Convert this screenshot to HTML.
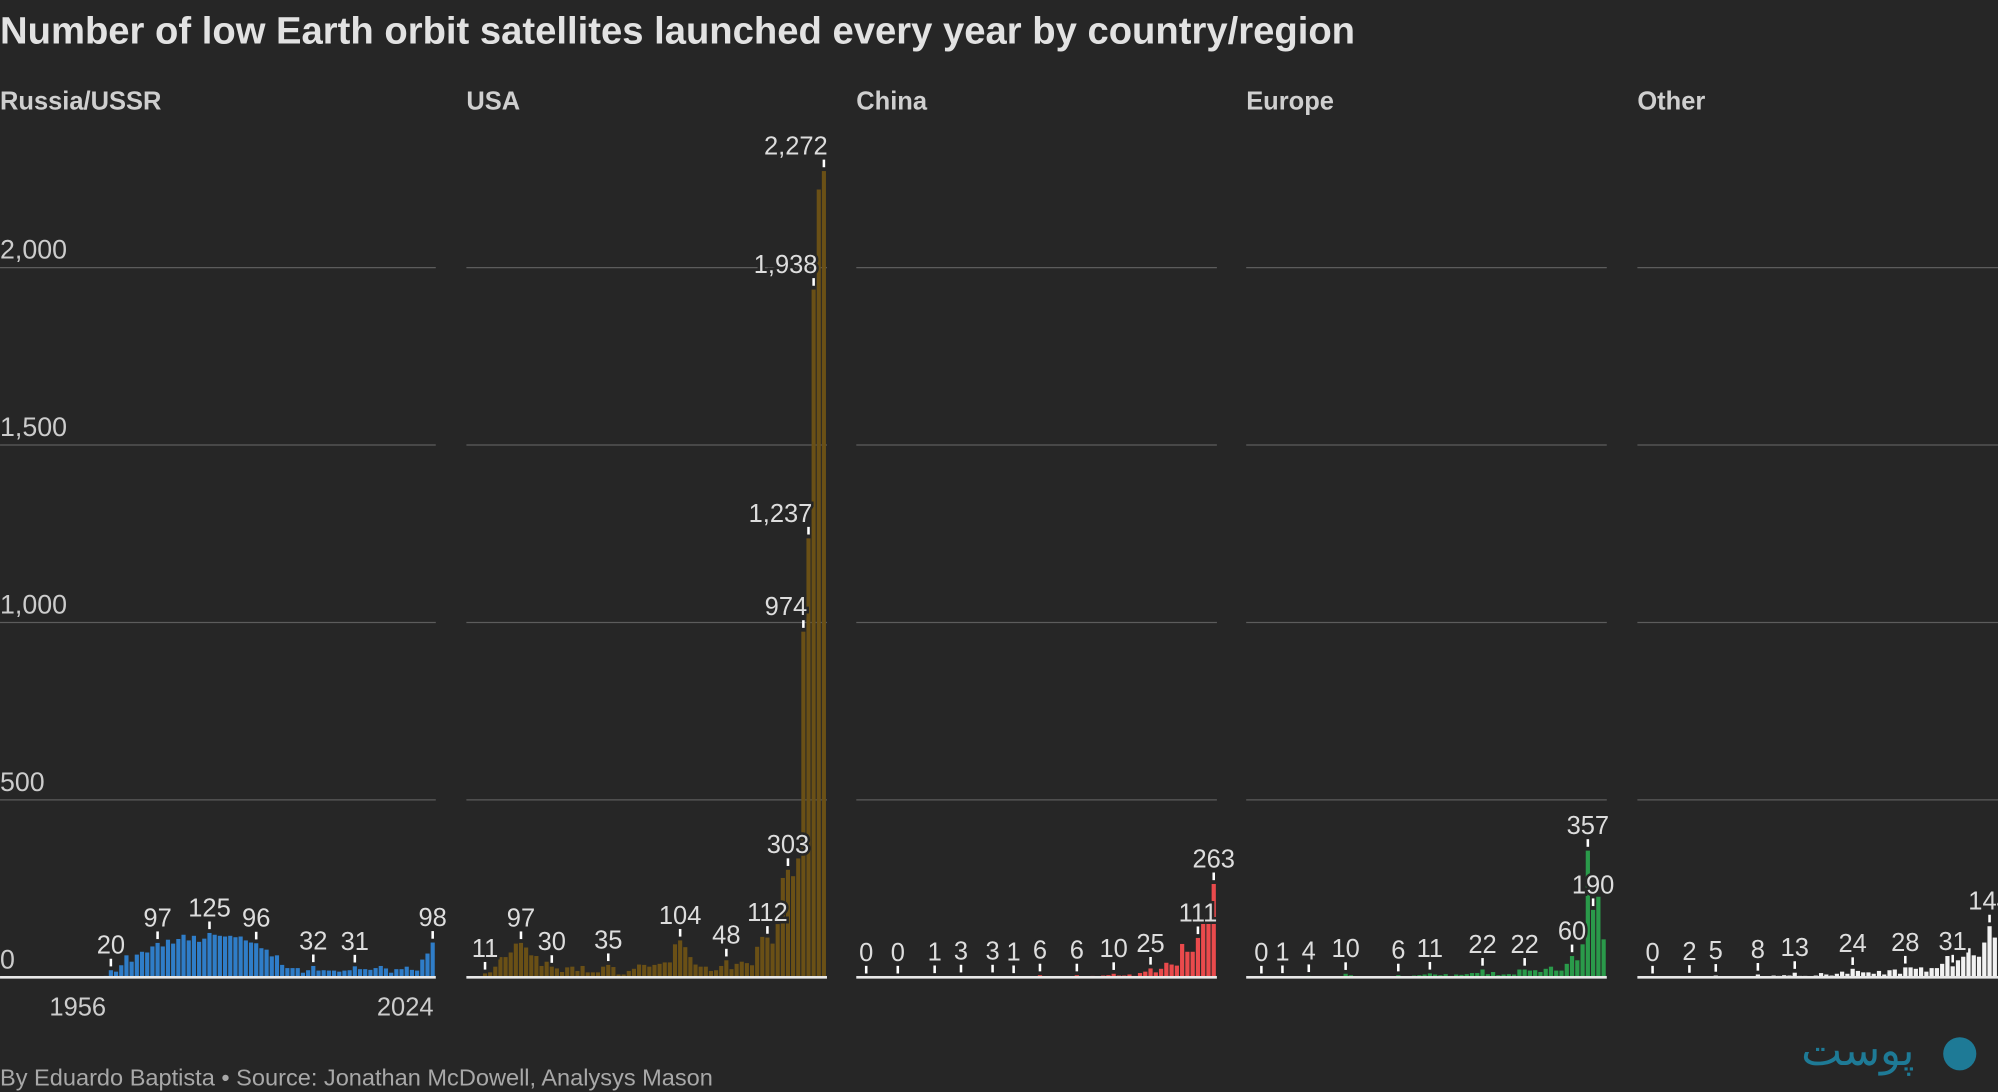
<!DOCTYPE html>
<html><head><meta charset="utf-8">
<style>
html,body{margin:0;padding:0;background:#262626;}
svg{display:block;}
text{font-family:"Liberation Sans","Noto Sans CJK SC",sans-serif;}
</style></head>
<body>
<svg id="chart" width="1998" height="1092" viewBox="0 0 1568 857" xmlns="http://www.w3.org/2000/svg">
<rect x="0" y="0" width="1568" height="857" fill="#262626"/>
<text x="0" y="34" font-size="30" font-weight="bold" fill="#e2e2e2">Number of low Earth orbit satellites launched every year by country/region</text>
<text x="0" y="852" font-size="18.5" fill="#a8a8a8">By Eduardo Baptista • Source: Jonathan McDowell, Analysys Mason</text>
<g>
<circle cx="1538" cy="827" r="13" fill="#1e7a96"/>
<text x="1458" y="836" font-size="34" fill="#1e7a96" text-anchor="middle" font-family="DejaVu Sans, sans-serif">پوست</text>
</g>
<g id="plots"></g>
</svg>
<script>
const russiaValues=[0,0,0,0,4,20,16,34,62,44,64,72,70,87,97,87,106,95,108,120,104,117,100,109,125,120,117,115,117,113,115,104,98,96,82,78,59,62,35,26,26,26,13,20,32,19,20,19,19,16,19,20,31,23,23,21,26,32,25,13,23,23,30,21,19,50,67,98];
const usaValues=[3,11,14,30,57,57,70,95,97,84,62,60,32,44,30,25,15,28,30,18,32,14,14,14,30,35,29,8,8,18,24,36,35,30,35,38,42,42,93,104,85,57,36,30,30,18,20,32,48,23,38,44,40,34,86,114,112,95,150,280,303,285,335,974,1237,1938,2220,2272];
const chinaValues=[0,0,0,0,0,0,0,0,0,0, 0,0,0,0,1,0,0,0,0,3, 1,0,0,0,0,3,0,0,0,1, 0,0,0,0,6,0,1,1,0,0, 2,6,3,3,4,3,5,6,10,5, 5,8,4,12,16,25,14,24,41,36, 33,94,72,72,111,151,151,263];
const europeValues=[0,0,0,0,0,0,1,0,0,0, 0,4,0,0,1,2,2,0,10,6, 1,0,2,0,0,1,0,2,6,0, 0,5,6,8,11,8,6,9,4,8, 7,9,12,12,22,9,15,6,8,9, 8,22,22,19,20,15,24,30,19,19, 38,60,48,93,357,190,227,107];
const otherValues=[0,0,0,0,0,0,0,0,0,2, 0,0,2,1,5,3,2,0,0,2, 2,2,8,1,3,5,4,6,5,13, 4,4,3,5,12,8,5,10,16,10, 24,18,14,14,10,18,8,20,22,10, 28,28,24,28,16,26,26,38,60,31, 48,58,82,62,58,98,144,112];
const russiaLabelIdx=[5,14,24,33,44,52,67];
const usaLabelIdx=[1,8,14,25,39,48,56,60,63,64,65,67];
const chinaLabelIdx=[1,7,14,19,25,29,34,41,48,55,64,67];
const europeLabelIdx=[2,6,11,18,28,34,44,52,61,64,65];
const otherLabelIdx=[2,9,14,22,29,40,50,59,66];
const panelNames=["Russia/USSR","USA","China","Europe","Other"];
const yTicks=[0,500,1000,1500,2000];
const yTickLabels=["0","500","1,000","1,500","2,000"];
const xTickLabels=["1956","2024"];

const NS="http://www.w3.org/2000/svg";
const plots=document.getElementById('plots');
function y(v){return 767-v*0.2785;}
function mk(tag,attrs,parent){const e=document.createElementNS(NS,tag);for(const k in attrs)e.setAttribute(k,attrs[k]);parent.appendChild(e);return e;}
function fmt(v){return v.toLocaleString('en-US');}

const panels=[
 {vals:russiaValues,labels:russiaLabelIdx,px0:0,px1:342,bx0:65,bx1:342,color:"#2f7dc8",key:"russia"},
 {vals:usaValues,labels:usaLabelIdx,px0:366,px1:649,bx0:375,bx1:649,color:"#6a5016",key:"usa"},
 {vals:chinaValues,labels:chinaLabelIdx,px0:672,px1:955,bx0:674,bx1:955,color:"#ea4a4c",key:"china"},
 {vals:europeValues,labels:europeLabelIdx,px0:978,px1:1261,bx0:980,bx1:1261,color:"#2a9a4a",key:"europe"},
 {vals:otherValues,labels:otherLabelIdx,px0:1285,px1:1568,bx0:1287,bx1:1568,color:"#f2f2f2",key:"other"}
];

panels.forEach((p,pi)=>{
  const g=mk('g',{},plots);
  
  
  const t=mk('text',{x:p.px0,y:86,'font-size':20,'font-weight':'bold',fill:'#cfcfcf'},g);
  
  
  t.textContent=panelNames[pi];
  yTicks.forEach((tv,ti)=>{
    if(tv>0){
      const l=mk('line',{x1:p.px0,x2:p.px1,y1:y(tv),y2:y(tv),stroke:'#5c5c5c','stroke-width':1},g);
      
      
    }
    if(pi===0){
      const lt=mk('text',{x:0,y:y(tv)-7,'font-size':21,fill:'#cccccc'},g);
      
      
      lt.textContent=yTickLabels[ti];
    }
  });
  const n=p.vals.length, step=(p.bx1-p.bx0)/n, bw=step*0.8;
  const bx=i=>p.bx0+i*step;
  p.vals.forEach((v,i)=>{
    const h=Math.max(v*0.2785,0);
    const r=mk('rect',{x:bx(i),y:y(v),width:bw,height:h,fill:p.color},g);
    
    
  });
  const base=mk('line',{x1:p.px0,x2:p.px1,y1:767,y2:767,stroke:'#e8e8e8','stroke-width':2},g);
  
  
  p.labels.forEach(i=>{
    const v=p.vals[i], cx=bx(i)+bw/2, top=y(v);
    const tk=mk('line',{x1:cx,x2:cx,y1:top-3,y2:top-9,stroke:'#ffffff','stroke-width':2},g);
    
    
    const big=v>=900;
    const lt=mk('text',{x:big?cx+3:cx,y:top-13,'font-size':20,fill:'#dddddd','text-anchor':big?'end':'middle',stroke:'#262626','stroke-width':4,'paint-order':'stroke'},g);
    
    
    lt.textContent=fmt(v);
  });
  if(pi===0){
    const a=mk('text',{x:61,y:797,'font-size':20,fill:'#cccccc','text-anchor':'middle'},g);
    
    
    a.textContent=xTickLabels[0];
    const b=mk('text',{x:318,y:797,'font-size':20,fill:'#cccccc','text-anchor':'middle'},g);
    
    
    b.textContent=xTickLabels[1];
  }
});
</script>
</body></html>
